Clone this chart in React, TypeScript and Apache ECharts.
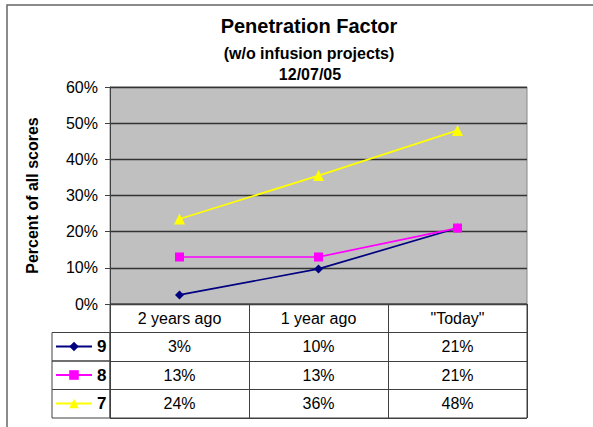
import React, { useEffect, useRef } from 'react';
import * as echarts from 'echarts';

const categories = ['2 years ago', '1 year ago', '"Today"'];
const seriesNames = ['9', '8', '7'];
const values9 = [2.5, 9.7, 21];
const values8 = [13, 13, 21];
const values7 = [23.5, 35.5, 48];
const seriesColors = ['#000080', '#ff00ff', '#ffff00'];
const seriesSymbols = ['diamond', 'rect', 'triangle'];
const yMin = 0;
const yMax = 60;
const yInterval = 10;
const titleText = 'Penetration Factor';
const subtitleText = '(w/o infusion projects)';
const dateText = '12/07/05';
const yAxisName = 'Percent of all scores';

const FONT = '"Liberation Sans", Arial, sans-serif';

export default function App() {
  const ref = useRef<HTMLDivElement>(null);
  useEffect(() => {
    document.body.style.margin = '0';
    if (!ref.current) return;
    const chart = echarts.init(ref.current, undefined, { renderer: 'svg' });
    const allValues = [values9, values8, values7];
    const rowKeys = ['header', ...seriesNames];

    const cellData: number[][] = [];
    const cellTexts: string[] = [];
    categories.forEach((c, i) => {
      cellData.push([i, 0]);
      cellTexts.push(c);
    });
    allValues.forEach((vals, r) => {
      vals.forEach((v, i) => {
        cellData.push([i, r + 1]);
        cellTexts.push(Math.round(v) + '%');
      });
    });
    const legendCells = seriesNames.map((_, r) => [0, r + 1]);

    const option: any = {
      animation: false,
      textStyle: { fontFamily: FONT },
      title: [
        { text: titleText, left: 309, top: 16, padding: 0, textAlign: 'center',
          textStyle: { fontSize: 20, fontWeight: 'bold', color: '#000', fontFamily: FONT } },
        { text: subtitleText, left: 309, top: 45, padding: 0, textAlign: 'center',
          textStyle: { fontSize: 16, fontWeight: 'bold', color: '#000', fontFamily: FONT } },
        { text: dateText, left: 310, top: 66, padding: 0, textAlign: 'center',
          textStyle: { fontSize: 16, fontWeight: 'bold', color: '#000', fontFamily: FONT } },
      ],
      graphic: [
        { type: 'rect', shape: { x: 7, y: 5, width: 640, height: 460 },
          style: { fill: 'none', stroke: '#666', lineWidth: 1.5 }, z: -1 },
      ],
      legend: {
        data: seriesNames,
        orient: 'vertical',
        left: 55,
        top: 338,
        padding: 0,
        itemGap: 11.5,
        itemWidth: 36,
        itemHeight: 12,
        textStyle: { fontSize: 17, lineHeight: 17, fontWeight: 'bold', color: '#000', fontFamily: FONT },
      },
      grid: [
        { left: 110, top: 87, width: 417, height: 217, show: true,
          backgroundColor: '#c0c0c0', borderColor: '#888', borderWidth: 1 },
        { left: 110, top: 304, width: 417, height: 114, show: true,
          backgroundColor: '#fff', borderColor: '#404040', borderWidth: 1 },
      ],
      xAxis: [
        { type: 'category', gridIndex: 0, data: categories, boundaryGap: true,
          axisLabel: { show: false }, axisTick: { show: false },
          axisLine: { show: true, lineStyle: { color: '#404040' } }, splitLine: { show: false } },
        { type: 'category', gridIndex: 1, data: categories, boundaryGap: true,
          axisLabel: { show: false }, axisTick: { show: false },
          axisLine: { show: false },
          splitLine: { show: true, lineStyle: { color: '#404040', width: 1 } } },
      ],
      yAxis: [
        { type: 'value', gridIndex: 0, min: yMin, max: yMax, interval: yInterval,
          name: yAxisName, nameLocation: 'middle', nameRotate: 90, nameGap: 70,
          nameTextStyle: { fontSize: 16, fontWeight: 'bold', color: '#000', fontFamily: FONT },
          axisLine: { show: true, lineStyle: { color: '#404040' } },
          axisTick: { show: true, length: 5, lineStyle: { color: '#404040' } },
          axisLabel: { formatter: '{value}%', fontSize: 16, color: '#000', margin: 12, fontFamily: FONT },
          splitLine: { show: true, lineStyle: { color: '#333', width: 1.3 } } },
        { type: 'category', gridIndex: 1, data: rowKeys, inverse: true, boundaryGap: true,
          axisLabel: { show: false }, axisTick: { show: false }, axisLine: { show: false },
          splitLine: { show: true, lineStyle: { color: '#404040', width: 1 } } },
      ],
      series: [
        ...allValues.map((vals, i) => ({
          name: seriesNames[i],
          type: 'line',
          xAxisIndex: 0,
          yAxisIndex: 0,
          data: vals,
          symbol: seriesSymbols[i],
          symbolSize: i === 2 ? 11 : 9,
          itemStyle: { color: seriesColors[i] },
          lineStyle: { color: seriesColors[i], width: 1.7 },
        })),
        {
          name: 'cells',
          type: 'custom',
          xAxisIndex: 1,
          yAxisIndex: 1,
          data: cellData,
          encode: { x: 0, y: 1 },
          renderItem: (params: any, api: any) => {
            const p = api.coord([api.value(0), api.value(1)]);
            return {
              type: 'text',
              x: p[0],
              y: p[1],
              style: {
                text: cellTexts[params.dataIndex],
                fill: '#000',
                fontSize: 16,
                fontFamily: FONT,
                align: 'center',
                verticalAlign: 'middle',
              },
            };
          },
        },
        {
          name: 'legendCells',
          type: 'custom',
          xAxisIndex: 1,
          yAxisIndex: 1,
          data: legendCells,
          encode: { x: 0, y: 1 },
          z: 1,
          renderItem: (params: any, api: any) => {
            const p = api.coord([api.value(0), api.value(1)]);
            const h = api.size([0, 1])[1];
            const cs = params.coordSys;
            return {
              type: 'rect',
              shape: { x: cs.x - 58, y: p[1] - h / 2, width: 58, height: h },
              style: { fill: 'none', stroke: '#404040', lineWidth: 1 },
            };
          },
        },
      ],
    };
    chart.setOption(option);
    return () => chart.dispose();
  }, []);
  return <div ref={ref} style={{ width: 593, height: 427 }} />;
}
